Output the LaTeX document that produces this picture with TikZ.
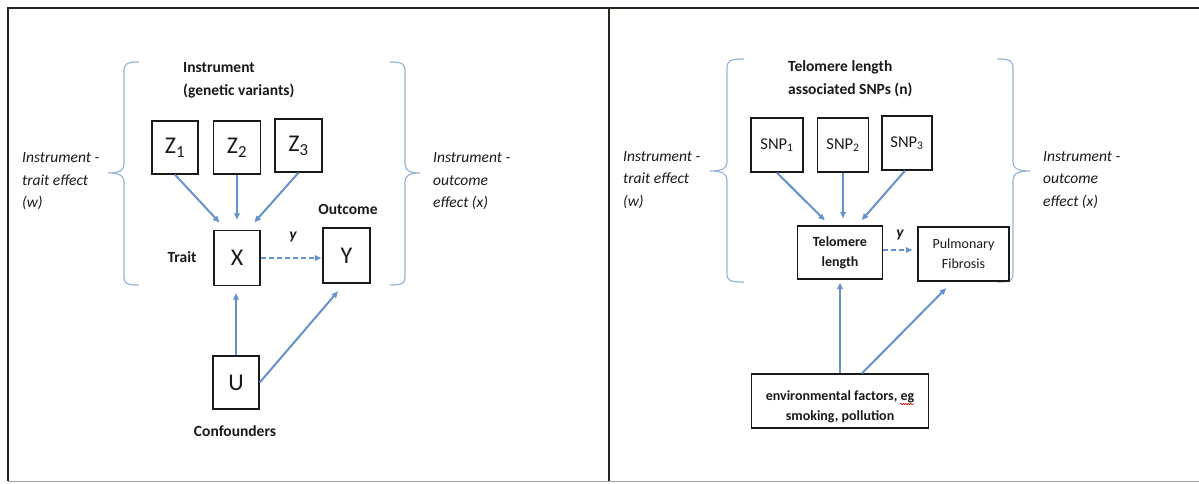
\documentclass[tikz,border=0pt]{standalone}
\usepackage{fontspec}
\setmainfont{Carlito}
\usetikzlibrary{arrows.meta,calc,decorations.pathmorphing}
\definecolor{arr}{RGB}{102,146,204}
\definecolor{brc}{RGB}{150,180,215}
\definecolor{ink}{RGB}{25,25,25}
\definecolor{frm}{RGB}{35,40,30}
\tikzset{
  box/.style={draw=ink,line width=1.4pt,inner sep=0pt,text=ink},
  bigletter/.style={font=\fontsize{24}{26}\selectfont},
  snpfont/.style={font=\fontsize{16.5}{18}\selectfont},
  lbl/.style={inner sep=0pt,text=ink,font=\fontsize{15.5}{22.5}\selectfont},
  blbl/.style={lbl,font=\fontsize{15.5}{22.5}\selectfont\bfseries},
  ilbl/.style={lbl,font=\fontsize{15.5}{22.5}\selectfont\itshape,align=left},
  con/.style={draw=arr,line width=2pt,-{Triangle[length=6.5pt,width=5.5pt]}},
  dcon/.style={con,dash pattern=on 5pt off 3pt},
  brace/.style={draw=brc,line width=1.2pt},
}
\begin{document}
\begin{tikzpicture}[x=1pt,y=-1pt]
\useasboundingbox (0,0) rectangle (1199,483);
% frames
\draw[frm,line width=1.4pt] (8,481) -- (8,8) -- (1199,8);
\draw[frm,line width=1.4pt] (609,8) -- (609,481);
\draw[black!35,line width=1pt] (8,481) -- (1199,481);

% ================= LEFT PANEL =================
\draw[brace] (139,62) .. controls (126,62) and (124,64) .. (124,72) -- (124,164)
  .. controls (124,170) and (120,173) .. (108,173)
  .. controls (120,173) and (124,176) .. (124,182) -- (124,277)
  .. controls (124,283) and (126,285) .. (139,285);
\draw[brace] (390,62) .. controls (403,62) and (405,64) .. (405,72) -- (405,164)
  .. controls (405,170) and (409,173) .. (420,173)
  .. controls (409,173) and (405,176) .. (405,182) -- (405,277)
  .. controls (405,283) and (403,285) .. (390,285);

\node[blbl,anchor=west,align=left] (instr) at (183,80.5) {Instrument\\(genetic variants)};
\node[ilbl,anchor=west] (lw) at (22,181.5) {Instrument -\\trait effect\\(w)};
\node[ilbl,anchor=west] (lx) at (433,181.5) {Instrument -\\outcome\\effect (x)};

\node[box,bigletter,minimum width=46pt,minimum height=53pt] (Z1) at (175,147.5) {Z\textsubscript{1}};
\node[box,bigletter,minimum width=47pt,minimum height=53pt] (Z2) at (237,147.5) {Z\textsubscript{2}};
\node[box,bigletter,minimum width=47pt,minimum height=53pt] (Z3) at (298.5,145.5) {Z\textsubscript{3}};
\node[box,bigletter,minimum width=46pt,minimum height=55pt] (X) at (237,258) {X};
\node[box,bigletter,minimum width=47pt,minimum height=55pt] (Y) at (346.5,255.5) {Y};
\node[box,bigletter,minimum width=46pt,minimum height=53pt] (U) at (236,382.5) {U};

\node[blbl] (trait) at (182,257) {Trait};
\node[blbl] (outc) at (348,209) {Outcome};
\node[blbl] (conf) at (235,431) {Confounders};
\node[lbl,font=\fontsize{15.5}{18}\selectfont\bfseries\itshape] (ylab1) at (293,237) {y};

\draw[con,shorten >=10pt] (Z1.south) -- ([xshift=13pt]X.north west);
\draw[con,shorten >=10pt] (Z2.south) -- (Z2.south|-X.north);
\draw[con,shorten >=10pt] (Z3.south) -- ([xshift=-13pt]X.north east);
\draw[dcon,shorten >=1pt] (X.east) -- (Y.west|-X.east);
\draw[con,shorten >=7pt] (U.north) -- (U.north|-X.south);
\draw[con,shorten >=10pt] (U.east) -- ([xshift=-2pt]Y.south);

% ================= RIGHT PANEL =================
\draw[brace] (744,59) .. controls (729,59) and (727,61) .. (727,69) -- (727,162)
  .. controls (727,168) and (723,171) .. (710,171)
  .. controls (723,171) and (727,174) .. (727,180) -- (727,274)
  .. controls (727,280) and (729,282) .. (744,282);
\draw[brace] (997,59) .. controls (1011,59) and (1013,61) .. (1013,69) -- (1013,162)
  .. controls (1013,168) and (1017,171) .. (1030,171)
  .. controls (1017,171) and (1013,174) .. (1013,180) -- (1013,274)
  .. controls (1013,280) and (1011,282) .. (997,282);

\node[blbl,anchor=west,align=left] (tlsnp) at (788,78.5) {Telomere length\\associated SNPs (n)};
\node[ilbl,anchor=west] (rw) at (623,180) {Instrument -\\trait effect\\(w)};
\node[ilbl,anchor=west] (rx) at (1043,180) {Instrument -\\outcome\\effect (x)};

\node[box,snpfont,minimum width=52pt,minimum height=54pt] (S1) at (777,145) {SNP\textsubscript{1}};
\node[box,snpfont,minimum width=51pt,minimum height=54pt] (S2) at (843,145) {SNP\textsubscript{2}};
\node[box,snpfont,minimum width=50pt,minimum height=54pt] (S3) at (907,143) {SNP\textsubscript{3}};
\node[box,font=\fontsize{14}{20}\selectfont\bfseries,align=center,minimum width=85pt,minimum height=53pt] (TL) at (840,252.5) {Telomere\\length};
\node[box,font=\fontsize{14}{20}\selectfont,align=center,minimum width=91pt,minimum height=54pt] (PF) at (963.5,254) {Pulmonary\\Fibrosis};
\node[box,font=\fontsize{14}{20}\selectfont\bfseries,align=center,minimum width=177pt,minimum height=54pt] (env) at (840,401) {\rule{0pt}{22pt}environmental factors, eg\\smoking, pollution};
\node[lbl,font=\fontsize{15.5}{18}\selectfont\bfseries\itshape] (ylab2) at (900,235) {y};
\draw[red!80!black,line width=0.6pt,decorate,decoration={snake,amplitude=0.7pt,segment length=2.5pt}] (900,404) -- (914,404);

\draw[con,shorten >=7pt] (S1.south) -- ([xshift=33pt]TL.north west);
\draw[con,shorten >=7pt] (S2.south) -- (S2.south|-TL.north);
\draw[con,shorten >=7pt] ([xshift=-2pt]S3.south) -- ([xshift=-26pt]TL.north east);
\draw[dcon,shorten >=5pt] (TL.east|-0,250) -- (PF.west|-0,250);
\draw[con,shorten >=3pt] (env.north) -- (env.north|-TL.south);
\draw[con,shorten >=9pt] ([xshift=22pt]env.north) -- ([xshift=-11pt]PF.south);
\end{tikzpicture}
\end{document}
